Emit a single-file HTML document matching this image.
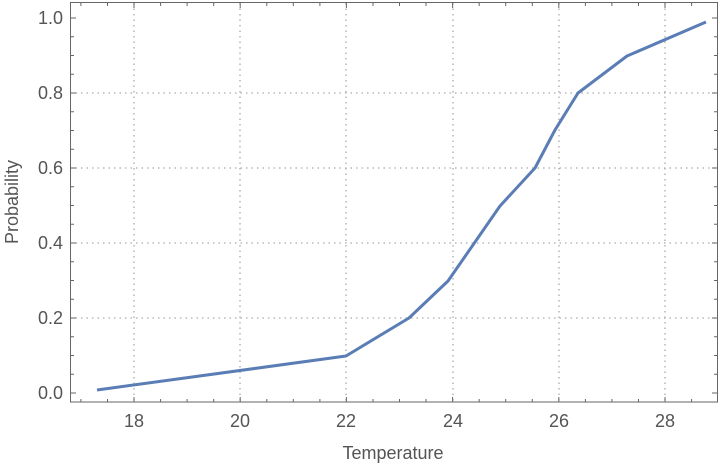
<!DOCTYPE html><html><head><style>body{margin:0;background:#fff}svg{display:block}text{font-family:"Liberation Sans","DejaVu Sans",sans-serif;fill:#555;font-size:18px}</style></head><body>
<svg width="720" height="466" viewBox="0 0 720 466">
<g stroke="#aaa" stroke-width="1.3" stroke-dasharray="1.5,4">
<line x1="134" y1="3" x2="134" y2="402"/><line x1="240" y1="3" x2="240" y2="402"/><line x1="346" y1="3" x2="346" y2="402"/><line x1="453" y1="3" x2="453" y2="402"/><line x1="559" y1="3" x2="559" y2="402"/><line x1="665" y1="3" x2="665" y2="402"/>
<line x1="70" y1="318" x2="718" y2="318"/><line x1="70" y1="243" x2="718" y2="243"/><line x1="70" y1="168" x2="718" y2="168"/><line x1="70" y1="93" x2="718" y2="93"/>
</g>
<rect x="70.5" y="2.5" width="647" height="399.5" fill="none" stroke="#666" stroke-width="1"/>
<g stroke="#666" stroke-width="1" fill="none">
<path d="M80.9 402v-3M107.5 402v-3M134 402v-5M160.6 402v-3M187.1 402v-3M213.7 402v-3M240.2 402v-5M266.8 402v-3M293.3 402v-3M319.9 402v-3M346.4 402v-5M373 402v-3M399.5 402v-3M426 402v-3M452.6 402v-5M479.2 402v-3M505.7 402v-3M532.3 402v-3M558.8 402v-5M585.4 402v-3M611.9 402v-3M638.5 402v-3M665 402v-5M691.6 402v-3"/>
<path d="M80.9 3v3M107.5 3v3M134 3v5M160.6 3v3M187.1 3v3M213.7 3v3M240.2 3v5M266.8 3v3M293.3 3v3M319.9 3v3M346.4 3v5M373 3v3M399.5 3v3M426 3v3M452.6 3v5M479.2 3v3M505.7 3v3M532.3 3v3M558.8 3v5M585.4 3v3M611.9 3v3M638.5 3v3M665 3v5M691.6 3v3"/>
<path d="M71 393h5M71 374.3h3M71 355.5h3M71 336.8h3M71 318h5M71 299.3h3M71 280.5h3M71 261.8h3M71 243h5M71 224.3h3M71 205.5h3M71 186.8h3M71 168h5M71 149.3h3M71 130.5h3M71 111.8h3M71 93h5M71 74.3h3M71 55.5h3M71 36.8h3M71 18h5"/>
<path d="M717 393h-5M717 374.3h-3M717 355.5h-3M717 336.8h-3M717 318h-5M717 299.3h-3M717 280.5h-3M717 261.8h-3M717 243h-5M717 224.3h-3M717 205.5h-3M717 186.8h-3M717 168h-5M717 149.3h-3M717 130.5h-3M717 111.8h-3M717 93h-5M717 74.3h-3M717 55.5h-3M717 36.8h-3M717 18h-5"/>
</g>
<polyline fill="none" stroke="#5b7db5" stroke-width="3" stroke-linejoin="round" points="97,390 346,356 409,318 448,281 500,206 535,168 555,130 578,93 627,56 706,22"/>
<g text-anchor="middle"><text x="134" y="427">18</text><text x="240" y="427">20</text><text x="346" y="427">22</text><text x="453" y="427">24</text><text x="559" y="427">26</text><text x="665" y="427">28</text>
<text x="393" y="459" font-size="19">Temperature</text></g>
<g text-anchor="end"><text x="63" y="399">0.0</text><text x="63" y="324">0.2</text><text x="63" y="249">0.4</text><text x="63" y="174">0.6</text><text x="63" y="99">0.8</text><text x="63" y="24">1.0</text></g>
<text transform="translate(18,202) rotate(-90)" text-anchor="middle" font-size="19">Probability</text>
</svg></body></html>
